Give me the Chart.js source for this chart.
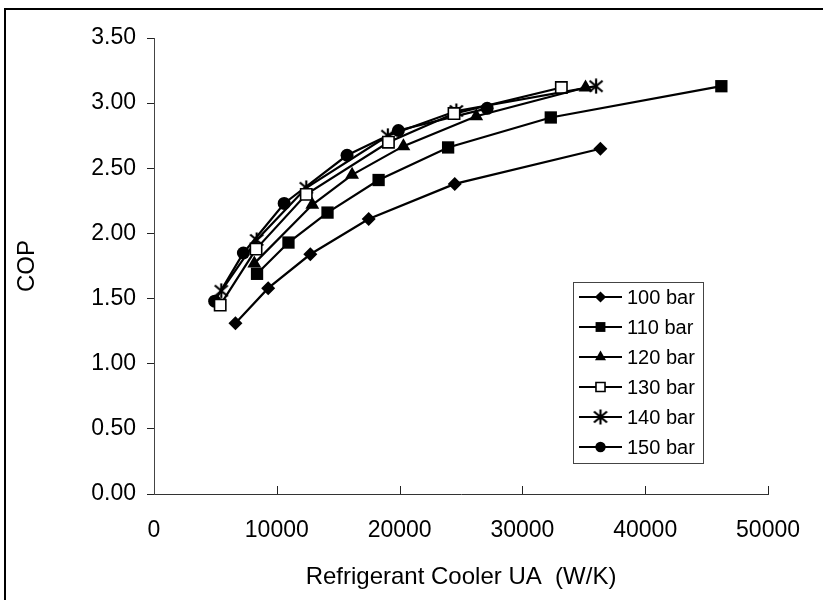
<!DOCTYPE html>
<html>
<head>
<meta charset="utf-8">
<script src="https://cdn.jsdelivr.net/npm/chart.js@4.4.1/dist/chart.umd.min.js"></script>
<style>
  html, body { margin: 0; padding: 0; background: #fff; overflow: hidden; }
  #wrap { position: relative; width: 823px; height: 600px; }
  #frame {
    position: absolute; left: 4px; top: 8px; width: 900px; height: 700px;
    border: 2px solid #000; box-sizing: border-box;
  }
  canvas { position: absolute; left: 0; top: 0; }
</style>
</head>
<body>
<div id="wrap">
  <div id="frame"></div>
  <canvas id="chart" width="823" height="600"></canvas>
</div>
<script>
// values
const seriesNames = ['100 bar', '110 bar', '120 bar', '130 bar', '140 bar', '150 bar'];

const ua100 = [6630, 9300, 12730, 17480, 24490, 36350];
const cop100 = [1.31, 1.58, 1.84, 2.11, 2.38, 2.65];

const ua110 = [8390, 10950, 14130, 18290, 23950, 32310, 46200];
const cop110 = [1.69, 1.93, 2.16, 2.41, 2.66, 2.89, 3.13];

const ua120 = [8170, 12890, 16130, 20310, 26240, 35140];
const cop120 = [1.77, 2.22, 2.45, 2.67, 2.90, 3.12];

const ua130 = [5390, 8310, 12400, 19090, 24430, 33170];
const cop130 = [1.45, 1.88, 2.30, 2.70, 2.92, 3.12];

const ua140 = [5480, 8360, 12400, 19040, 24620, 36000];
const cop140 = [1.56, 1.95, 2.35, 2.75, 2.94, 3.13];

const ua150 = [4940, 7280, 10600, 15720, 19900, 27130];
const cop150 = [1.48, 1.85, 2.23, 2.60, 2.79, 2.96];

const xTickValues = [0, 10000, 20000, 30000, 40000, 50000];
const yTickValues = [0, 0.5, 1, 1.5, 2, 2.5, 3, 3.5];

const FONT = "'Liberation Sans', Arial, Helvetica, sans-serif";
Chart.defaults.font.family = FONT;
Chart.defaults.color = '#000';

// six-spoke asterisk marker
function makeAsterisk() {
  const c = document.createElement('canvas');
  c.width = 16; c.height = 16;
  const g = c.getContext('2d');
  g.strokeStyle = '#000';
  g.lineWidth = 2.2;
  g.beginPath();
  g.moveTo(8, 0.5); g.lineTo(8, 15.5);
  g.moveTo(1.5, 2.5); g.lineTo(14.5, 13.5);
  g.moveTo(14.5, 2.5); g.lineTo(1.5, 13.5);
  g.stroke();
  return c;
}
const asterisk = makeAsterisk();

function pairs(xs, ys) {
  return xs.map((x, i) => ({ x: x, y: ys[i] }));
}

const markerStyles = [
  { pointStyle: 'rectRot', radius: 7, bg: '#000', bw: 0 },
  { pointStyle: 'rect', radius: 8.7, bg: '#000', bw: 0 },
  { pointStyle: 'triangle', radius: 8, bg: '#000', bw: 0 },
  { pointStyle: 'rect', radius: 8, bg: '#fff', bw: 1.6 },
  { pointStyle: asterisk, radius: 8, bg: '#000', bw: 0 },
  { pointStyle: 'circle', radius: 6.5, bg: '#000', bw: 0 },
];

const seriesData = [
  pairs(ua100, cop100),
  pairs(ua110, cop110),
  pairs(ua120, cop120),
  pairs(ua130, cop130),
  pairs(ua140, cop140),
  pairs(ua150, cop150),
];

const datasets = seriesNames.map((name, i) => ({
  label: name,
  data: seriesData[i],
  showLine: true,
  borderColor: '#000',
  borderWidth: 2.2,
  pointStyle: markerStyles[i].pointStyle,
  pointRadius: markerStyles[i].radius,
  pointHoverRadius: markerStyles[i].radius,
  pointBackgroundColor: markerStyles[i].bg,
  pointBorderColor: '#000',
  pointBorderWidth: markerStyles[i].bw,
}));

// x axis ticks point up into the plot
const innerTicks = {
  id: 'innerTicks',
  afterDraw(chart) {
    const ctx = chart.ctx;
    const xs = chart.scales.x;
    const bottom = chart.chartArea.bottom;
    ctx.save();
    ctx.strokeStyle = '#222';
    ctx.lineWidth = 1;
    xTickValues.forEach(v => {
      if (v === 0) return;
      const px = Math.round(xs.getPixelForValue(v)) + 0.5;
      ctx.beginPath();
      ctx.moveTo(px, bottom);
      ctx.lineTo(px, bottom - 8);
      ctx.stroke();
    });
    ctx.restore();
  }
};

// boxed legend sitting inside the plot
const boxLegend = {
  id: 'boxLegend',
  afterDraw(chart) {
    const ctx = chart.ctx;
    const box = { x: 573, y: 282, w: 130, h: 181 };
    ctx.save();
    ctx.fillStyle = '#fff';
    ctx.fillRect(box.x, box.y, box.w, box.h);
    ctx.strokeStyle = '#444';
    ctx.lineWidth = 1;
    ctx.strokeRect(box.x + 0.5, box.y + 0.5, box.w, box.h);
    chart.data.datasets.forEach((ds, i) => {
      const y = 297 + i * 30;
      ctx.strokeStyle = '#000';
      ctx.lineWidth = 2;
      ctx.beginPath();
      ctx.moveTo(579, y);
      ctx.lineTo(622, y);
      ctx.stroke();
      ctx.fillStyle = ds.pointBackgroundColor;
      ctx.strokeStyle = '#000';
      ctx.lineWidth = ds.pointBorderWidth;
      Chart.helpers.drawPoint(ctx, {
        pointStyle: ds.pointStyle,
        radius: ds.pointRadius * 0.8,
        rotation: 0,
        borderWidth: ds.pointBorderWidth,
      }, 600.5, y);
      ctx.fillStyle = '#000';
      ctx.font = '20px ' + FONT;
      ctx.textBaseline = 'middle';
      ctx.textAlign = 'left';
      ctx.fillText(ds.label, 627, y + 1);
    });
    ctx.restore();
  }
};

new Chart(document.getElementById('chart'), {
  type: 'scatter',
  data: { datasets: datasets },
  plugins: [innerTicks, boxLegend],
  options: {
    responsive: false,
    animation: false,
    devicePixelRatio: 1,
    layout: { padding: { left: 8, right: 51, top: 38, bottom: 8 } },
    plugins: {
      legend: { display: false },
      tooltip: { enabled: false },
    },
    scales: {
      x: {
        type: 'linear',
        min: 0,
        max: 50000,
        afterBuildTicks: s => { s.ticks = xTickValues.map(v => ({ value: v })); },
        afterFit: s => { s.height = 98; },
        ticks: {
          padding: 23,
          maxRotation: 0,
          font: { size: 23 },
          color: '#000',
          callback: v => String(v),
        },
        grid: { drawOnChartArea: false, drawTicks: false },
        border: { display: true, color: '#333', width: 1 },
        title: {
          display: true,
          text: 'Refrigerant Cooler UA  (W/K)',
          font: { size: 24 },
          color: '#000',
          padding: { top: 0, bottom: 0 },
        },
      },
      y: {
        type: 'linear',
        min: 0,
        max: 3.5,
        afterBuildTicks: s => { s.ticks = yTickValues.map(v => ({ value: v })); },
        afterFit: s => { s.width = 146; },
        ticks: {
          padding: 11,
          font: { size: 23 },
          color: '#000',
          callback: v => Number(v).toFixed(2),
        },
        grid: { drawOnChartArea: false, drawTicks: true, tickLength: 7, color: '#222' },
        border: { display: true, color: '#444', width: 1 },
        title: {
          display: true,
          text: 'COP',
          font: { size: 24 },
          color: '#000',
          padding: { top: 5, bottom: 0 },
        },
      },
    },
  },
});
</script>
</body>
</html>
